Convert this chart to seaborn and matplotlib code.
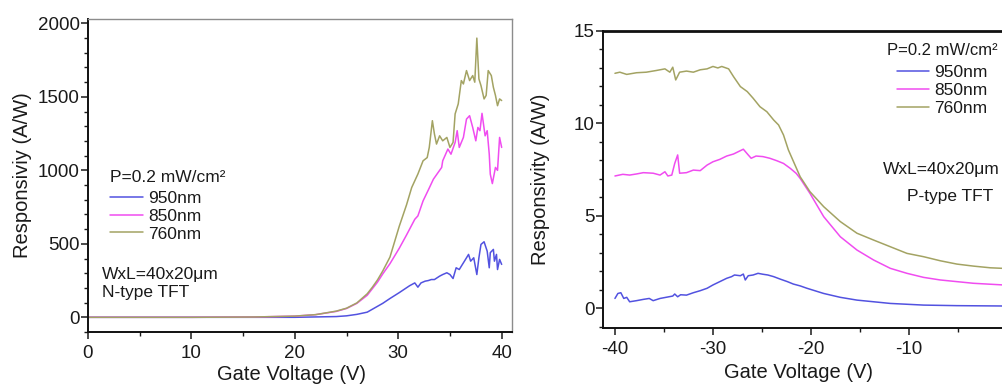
import numpy as np
import pandas as pd
import matplotlib
matplotlib.use("Agg")
import matplotlib.pyplot as plt
from matplotlib.ticker import MultipleLocator
import seaborn as sns

# ---------------- data ----------------
wavelengths = ["950nm", "850nm", "760nm"]
colors = ["#5252e0", "#f04cf0", "#a3a363"]

# Left panel: N-type TFT
n_v_950 = [0, 10, 20, 24, 25, 26, 27, 27.5, 28.5, 29.2, 30.1, 31.1, 31.6, 31.9, 32.2, 32.6, 32.9,
           33.2, 33.5, 34.0, 34.3, 34.7, 35.0, 35.3, 35.6, 35.9, 36.1, 36.4, 36.6, 36.8, 37.0,
           37.3, 37.6, 37.8, 38.0, 38.3, 38.6, 38.8, 38.9, 39.2, 39.3, 39.5, 39.6, 39.8, 40.0]
n_r_950 = [0, 0, 0, 5, 10, 20, 35, 55, 95, 128, 168, 215, 234, 205, 234, 246, 250,
           257, 257, 280, 291, 303, 291, 264, 337, 325, 348, 382, 405, 428, 382,
           405, 291, 405, 496, 514, 450, 337, 440, 462, 382, 428, 325, 394, 360]

n_v_850 = [0, 10, 16, 20, 22, 24, 25, 26, 27, 27.5, 28, 28.5, 29.2, 30.1, 30.8, 31.6, 31.9,
           32.4, 33.0, 33.4, 34.2, 34.3, 34.8, 35.1, 35.5, 35.7, 35.9, 36.3, 36.6, 36.9, 37.2,
           37.5, 37.7, 37.9, 38.1, 38.4, 38.6, 38.8, 38.9, 39.1, 39.4, 39.6, 39.8, 40.0]
n_r_850 = [0, 0, 2, 8, 18, 40, 60, 95, 150, 195, 240, 295, 365, 470, 560, 667, 690,
           792, 880, 940, 1020, 1065, 1145, 1110, 1190, 1270, 1156, 1224, 1349, 1372, 1292,
           1201, 1292, 1270, 1388, 1235, 1270, 1110, 974, 910, 1020, 1000, 1224, 1156]

n_v_760 = [0, 10, 16, 20, 22, 24, 25, 26, 27, 27.5, 28, 28.5, 29.2, 30.1, 30.8, 31.3, 31.9,
           32.4, 32.8, 33.0, 33.3, 33.5, 33.7, 34.0, 34.3, 34.7, 35.0, 35.3, 35.5, 35.8, 36.1,
           36.3, 36.6, 36.9, 37.2, 37.4, 37.6, 37.8, 38.0, 38.3, 38.5, 38.7, 39.0, 39.2, 39.4,
           39.6, 39.8, 40.0]
n_r_760 = [0, 0, 2, 8, 18, 42, 62, 98, 160, 205, 255, 315, 410, 620, 765, 883, 975,
           1065, 1087, 1156, 1338, 1247, 1179, 1235, 1201, 1224, 1156, 1190, 1384, 1452, 1611,
           1588, 1679, 1611, 1645, 1600, 1900, 1622, 1577, 1486, 1510, 1679, 1645, 1565, 1510,
           1440, 1486, 1475]

# Right panel: P-type TFT
p_v_950 = [-40, -39.7, -39.4, -39.1, -38.8, -38.5, -37.8, -37.1, -36.5, -36.1, -35.4, -34.8,
           -34.1, -33.9, -33.6, -33.3, -32.7, -32.0, -31.3, -30.6, -30.0, -29.3, -28.6, -28.1,
           -27.8, -27.2, -26.9, -26.7, -26.4, -25.9, -25.4, -24.9, -24.4, -23.8, -23.1, -22.4,
           -21.8, -21.1, -20.4, -18.7, -17.0, -15.3, -11.9, -8.5, -5.1, 0]
p_r_950 = [0.52, 0.79, 0.83, 0.52, 0.58, 0.34, 0.40, 0.47, 0.52, 0.40, 0.52, 0.58,
           0.65, 0.76, 0.61, 0.72, 0.70, 0.83, 0.94, 1.07, 1.25, 1.43, 1.61, 1.70,
           1.79, 1.75, 1.84, 1.52, 1.75, 1.79, 1.88, 1.83, 1.79, 1.70, 1.56, 1.43,
           1.30, 1.20, 1.07, 0.79, 0.58, 0.43, 0.25, 0.16, 0.13, 0.11]

p_v_850 = [-40, -39.2, -38.5, -37.8, -37.1, -36.1, -35.4, -34.9, -34.6, -34.2, -33.9, -33.6,
           -33.4, -32.7, -32.0, -31.3, -30.6, -30.0, -29.3, -28.6, -27.9, -27.4, -26.9, -26.4,
           -26.1, -25.6, -24.9, -24.2, -23.5, -22.8, -22.1, -21.5, -21.1, -20.1, -18.7, -17.0,
           -15.3, -13.6, -11.9, -10.2, -8.5, -6.8, -5.1, -3.4, -1.7, 0]
p_r_850 = [7.15, 7.24, 7.20, 7.26, 7.33, 7.30, 7.20, 7.38, 7.15, 7.20, 7.83, 8.29,
           7.30, 7.33, 7.47, 7.44, 7.74, 7.92, 8.05, 8.23, 8.34, 8.47, 8.60, 8.29,
           8.11, 8.23, 8.20, 8.11, 7.98, 7.83, 7.56, 7.29, 7.02, 6.21, 4.95, 3.86,
           3.14, 2.60, 2.15, 1.88, 1.66, 1.52, 1.43, 1.34, 1.29, 1.24]

p_v_760 = [-40, -39.5, -38.8, -37.8, -36.8, -35.8, -34.9, -34.4, -34.1, -33.8, -33.4, -32.7,
           -32.0, -31.3, -30.6, -30.0, -29.5, -29.1, -28.4, -27.9, -27.2, -26.5, -25.9, -25.2,
           -24.5, -23.8, -23.3, -22.8, -22.3, -21.1, -20.1, -18.7, -17.0, -15.3, -13.6, -11.9,
           -10.2, -8.5, -6.8, -5.1, -3.4, -1.7, 0]
p_r_760 = [12.71, 12.77, 12.65, 12.74, 12.77, 12.86, 12.95, 12.77, 13.04, 12.35, 12.77, 12.83,
           12.77, 12.90, 12.95, 13.08, 13.00, 13.08, 12.95, 12.53, 11.99, 11.72, 11.36, 10.90,
           10.63, 10.18, 9.91, 9.37, 8.56, 7.11, 6.30, 5.49, 4.68, 4.05, 3.68, 3.32,
           2.96, 2.78, 2.56, 2.38, 2.27, 2.18, 2.14]

x_label = "Gate Voltage (V)"
left_ylabel = "Responsiviy (A/W)"
right_ylabel = "Responsivity (A/W)"
legend_title = "P=0.2 mW/cm²"
left_note = ["WxL=40x20μm", "N-type TFT"]
right_note = ["WxL=40x20μm", "P-type TFT"]


def long_frame(vs, rs):
    parts = []
    for wl, v, r in zip(wavelengths, vs, rs):
        parts.append(pd.DataFrame({"V": v, "R": r, "wl": wl}))
    return pd.concat(parts, ignore_index=True)


df_n = long_frame([n_v_950, n_v_850, n_v_760], [n_r_950, n_r_850, n_r_760])
df_p = long_frame([p_v_950, p_v_850, p_v_760], [p_r_950, p_r_850, p_r_760])

# ---------------- style ----------------
sns.set_style("ticks")
plt.rcParams["font.family"] = ["Liberation Sans", "DejaVu Sans"]
plt.rcParams["axes.unicode_minus"] = False
plt.rcParams["text.color"] = "#1a1a1a"
plt.rcParams["axes.labelcolor"] = "#1a1a1a"
plt.rcParams["xtick.color"] = "#1a1a1a"
plt.rcParams["ytick.color"] = "#1a1a1a"

W, H = 1003, 385
fig = plt.figure(figsize=(W / 100, H / 100), dpi=100)
palette = dict(zip(wavelengths, colors))

ax1 = fig.add_axes([88 / W, 1 - 332 / H, 424 / W, 313 / H])
ax2 = fig.add_axes([603 / W, 1 - 328 / H, 424 / W, 297 / H])

for ax, df in ((ax1, df_n), (ax2, df_p)):
    sns.lineplot(data=df, x="V", y="R", hue="wl", hue_order=wavelengths,
                 palette=palette, estimator=None, sort=False, linewidth=1.1, ax=ax)

# left axes
ax1.set_xlim(0, 41)
ax1.set_ylim(-100, 2030)
ax1.set_xticks([0, 10, 20, 30, 40])
ax1.set_yticks([0, 500, 1000, 1500, 2000])
ax1.xaxis.set_minor_locator(MultipleLocator(5))
ax1.yaxis.set_minor_locator(MultipleLocator(100))
for s in ("top", "right"):
    ax1.spines[s].set_color("#8c8c8c")
    ax1.spines[s].set_linewidth(1.0)
for s in ("left", "bottom"):
    ax1.spines[s].set_color("#111111")
    ax1.spines[s].set_linewidth(1.4)

# right axes
ax2.set_xlim(-41.22, 2.05)
ax2.set_ylim(-1.08, 15)
ax2.set_xticks([-40, -30, -20, -10, 0])
ax2.set_yticks([0, 5, 10, 15])
ax2.xaxis.set_minor_locator(MultipleLocator(5))
ax2.yaxis.set_minor_locator(MultipleLocator(1))
for s in ("top", "right", "left", "bottom"):
    ax2.spines[s].set_color("#111111")
    ax2.spines[s].set_linewidth(1.4)
ax2.spines["top"].set_linewidth(2.0)

for ax in (ax1, ax2):
    ax.tick_params(which="major", direction="out", length=5, width=1.1,
                   labelsize=13.5, top=False, right=False)
    ax.tick_params(which="minor", direction="out", length=3, width=1.0,
                   top=False, right=False)
    ax.tick_params(axis="y", which="major", pad=1)
    ax.tick_params(axis="x", which="major", pad=4)
    ax.set_xlabel(x_label, fontsize=14.5)

ax1.set_ylabel(left_ylabel, fontsize=14.5)
ax2.set_ylabel(right_ylabel, fontsize=14.5)
ax1.yaxis.set_label_coords(-0.132, 0.5)
ax2.yaxis.set_label_coords(-0.125, 0.5)
ax1.xaxis.set_label_coords(0.48, -0.104)
ax2.xaxis.set_label_coords(0.461, -0.117)

# legends
h1, l1 = ax1.get_legend_handles_labels()
leg1 = ax1.legend(h1, l1, title=legend_title, loc="upper left",
                  bbox_to_anchor=((110 - 88) / 424, (332 - 170) / 313),
                  frameon=False, alignment="left", fontsize=12.5, title_fontsize=12.5,
                  handlelength=1.9, handletextpad=0.3, labelspacing=0.16,
                  borderpad=0, borderaxespad=0)
leg1._legend_box.sep = 4.0
h2, l2 = ax2.get_legend_handles_labels()
leg2 = ax2.legend(h2, l2, title=legend_title, loc="upper left",
                  bbox_to_anchor=((887 - 603) / 424, (328 - 43) / 297),
                  frameon=False, alignment="center", fontsize=12.5, title_fontsize=12,
                  handlelength=1.8, handletextpad=0.3, labelspacing=0.16,
                  borderpad=0, borderaxespad=0)
leg2._legend_box.sep = 5.0

# annotations
ax1.text((102 - 88) / 424, (332 - 275) / 313, left_note[0], transform=ax1.transAxes,
         fontsize=12.5, ha="left", va="center")
ax1.text((102 - 88) / 424, (332 - 293) / 313, left_note[1], transform=ax1.transAxes,
         fontsize=12.5, ha="left", va="center")
ax2.text((941 - 603) / 424, (328 - 170) / 297, right_note[0], transform=ax2.transAxes,
         fontsize=12.5, ha="center", va="center")
ax2.text((950 - 603) / 424, (328 - 197) / 297, right_note[1], transform=ax2.transAxes,
         fontsize=12.5, ha="center", va="center")

fig.savefig("out.png", dpi=100)
